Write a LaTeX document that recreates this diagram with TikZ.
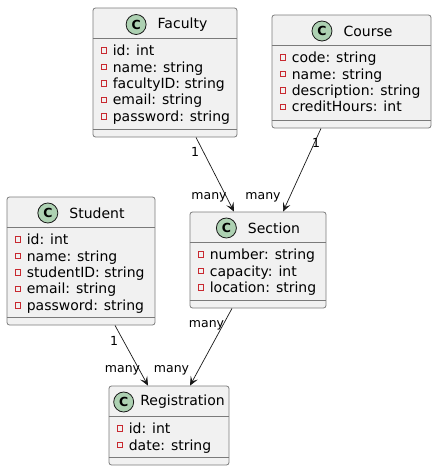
\documentclass[tikz,border=0pt]{standalone}
\usepackage{fontspec}
\setmainfont{DejaVu Sans}
\usepackage{tikz}
\usetikzlibrary{arrows.meta,calc,positioning}

\definecolor{classfill}{HTML}{F1F1F1}
\definecolor{classline}{HTML}{181818}
\definecolor{boxline}{HTML}{7A7A7A}
\definecolor{stereofill}{HTML}{ADD1B2}
\definecolor{privred}{HTML}{C82930}

\tikzset{
  classbox/.style={shape=rectangle, draw=boxline, line width=0.8pt, fill=classfill, rounded corners=2.5pt, inner sep=0pt},
  sepline/.style={draw=boxline, line width=0.8pt},
  ctitle/.style={inner sep=0pt, font=\fontsize{14}{16}\selectfont},
  cmark/.style={shape=circle, draw=classline, line width=0.8pt, fill=stereofill, minimum size=20pt, inner sep=0pt, font=\fontsize{12.5}{14}\selectfont\bfseries},
  attr/.style={inner sep=0pt, anchor=base west, font=\fontsize{14}{16}\selectfont},
  privmark/.style={shape=rectangle, draw=privred, line width=0.9pt, minimum size=5.5pt, inner sep=0pt},
  assoc/.style={draw=classline, line width=0.7pt, -{Stealth[length=9pt, width=8pt, inset=4pt]}},
  mult/.style={inner sep=0pt, font=\fontsize{12.5}{14}\selectfont},
}

\begin{document}
\begin{tikzpicture}[x=1pt, y=-1pt]
    % Canvas:
    \useasboundingbox (0,0) rectangle (437,471);

    % Faculty
    \node[classbox, minimum width=144pt, minimum height=129pt](Faculty) at (165, 72.5){};
    \node[ctitle](FacultyT) at (182.5, 24.5){Faculty};
    \node[cmark, left=11pt of FacultyT](FacultyC){C};
    \draw[sepline] ($(Faculty.north west)+(0,31)$) -- ($(Faculty.north east)+(0,31)$);
    \foreach \a [count=\i] in {id: int, name: string, facultyID: string, email: string, password: string}{
        \node[attr](FacultyA\i) at ($(Faculty.north west)+(20,{31.6+\i*16.4})$){\a};
        \node[privmark](FacultyP\i) at ($(Faculty.north west)+(11.5,{26.6+\i*16.4})$){};
    }
    \draw[sepline] ($(Faculty.south west)+(0,-8)$) -- ($(Faculty.south east)+(0,-8)$);

    % Course
    \node[classbox, minimum width=159pt, minimum height=113pt](Course) at (351.5, 71.5){};
    \node[ctitle](CourseT) at (368, 31){Course};
    \node[cmark, left=11pt of CourseT](CourseC){C};
    \draw[sepline] ($(Course.north west)+(0,31)$) -- ($(Course.north east)+(0,31)$);
    \foreach \a [count=\i] in {code: string, name: string, description: string, creditHours: int}{
        \node[attr](CourseA\i) at ($(Course.north west)+(20,{31.6+\i*16.4})$){\a};
        \node[privmark](CourseP\i) at ($(Course.north west)+(11.5,{26.6+\i*16.4})$){};
    }
    \draw[sepline] ($(Course.south west)+(0,-8)$) -- ($(Course.south east)+(0,-8)$);

    % Student
    \node[classbox, minimum width=148pt, minimum height=128pt](Student) at (81, 261){};
    \node[ctitle](StudentT) at (97, 213){Student};
    \node[cmark, left=11pt of StudentT](StudentC){C};
    \draw[sepline] ($(Student.north west)+(0,31)$) -- ($(Student.north east)+(0,31)$);
    \foreach \a [count=\i] in {id: int, name: string, studentID: string, email: string, password: string}{
        \node[attr](StudentA\i) at ($(Student.north west)+(20,{31.6+\i*16.4})$){\a};
        \node[privmark](StudentP\i) at ($(Student.north west)+(11.5,{26.6+\i*16.4})$){};
    }
    \draw[sepline] ($(Student.south west)+(0,-8)$) -- ($(Student.south east)+(0,-8)$);

    % Section
    \node[classbox, minimum width=136pt, minimum height=96pt](Section) at (258, 260){};
    \node[ctitle](SectionT) at (274, 228){Section};
    \node[cmark, left=11pt of SectionT](SectionC){C};
    \draw[sepline] ($(Section.north west)+(0,31)$) -- ($(Section.north east)+(0,31)$);
    \foreach \a [count=\i] in {number: string, capacity: int, location: string}{
        \node[attr](SectionA\i) at ($(Section.north west)+(20,{31.6+\i*16.4})$){\a};
        \node[privmark](SectionP\i) at ($(Section.north west)+(11.5,{26.6+\i*16.4})$){};
    }
    \draw[sepline] ($(Section.south west)+(0,-8)$) -- ($(Section.south east)+(0,-8)$);

    % Registration
    \node[classbox, minimum width=120pt, minimum height=79pt](Registration) at (169, 425.5){};
    \node[ctitle](RegistrationT) at (182.5, 402){Registration};
    \node[cmark, left=6pt of RegistrationT](RegistrationC){C};
    \draw[sepline] ($(Registration.north west)+(0,31)$) -- ($(Registration.north east)+(0,31)$);
    \foreach \a [count=\i] in {id: int, date: string}{
        \node[attr](RegistrationA\i) at ($(Registration.north west)+(20,{31.6+\i*16.4})$){\a};
        \node[privmark](RegistrationP\i) at ($(Registration.north west)+(11.5,{26.6+\i*16.4})$){};
    }
    \draw[sepline] ($(Registration.south west)+(0,-8)$) -- ($(Registration.south east)+(0,-8)$);

    % Associations
    \draw[assoc] ([xshift=31pt]Faculty.south) -- ([xshift=-24pt]Section.north);
    \draw[assoc] ([xshift=-30.5pt]Course.south) -- ([xshift=25pt]Section.north);
    \draw[assoc] ([xshift=34pt]Student.south) -- ([xshift=-21pt]Registration.north);
    \draw[assoc] ([xshift=-26pt]Section.south) -- ([xshift=21pt]Registration.north);

    % Multiplicities
    \node[mult](FacultyM) at (195, 152){1};
    \node[mult](SectionM1) at (209, 197){many};
    \node[mult](CourseM) at (316, 143){1};
    \node[mult](SectionM2) at (263, 197){many};
    \node[mult](StudentM) at (114, 341){1};
    \node[mult](RegistrationM1) at (122.5, 370){many};
    \node[mult](SectionM3) at (206.5, 325){many};
    \node[mult](RegistrationM2) at (171.5, 370){many};
\end{tikzpicture}
\end{document}
